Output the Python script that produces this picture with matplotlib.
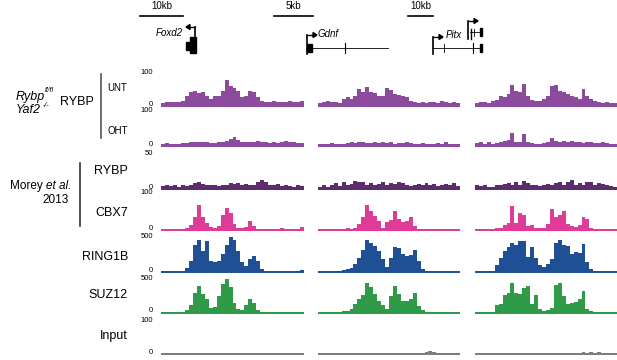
import matplotlib.pyplot as plt
import numpy as np

plt.rcParams['font.family'] = ['Liberation Sans', 'DejaVu Sans']

W, H = 617, 360

# track names, y-axis max, colours
tracks = ['UNT', 'OHT', 'RYBP', 'CBX7', 'RING1B', 'SUZ12', 'Input']
ymax = [100, 100, 50, 100, 500, 500, 100]
colors = ['#8b4c9e', '#8b4c9e', '#5c2c6f', '#de3c97', '#1f4f95', '#2f9a48', '#7d7d7d']

# signal per locus (Foxd2, Gdnf, Pitx), binned
foxd2 = {
    'UNT': [10,12,11,13,12,15,30,40,45,38,42,30,22,28,30,45,76,60,52,45,25,28,45,42,25,15,13,12,14,11,13,12,14,11,13,16],
    'OHT': [6,8,5,7,6,8,9,10,12,10,12,11,8,9,10,12,14,20,26,18,12,10,11,12,14,10,12,9,10,8,12,14,10,12,9,8],
    'RYBP': [4,5,4,6,3,5,4,6,8,9,7,6,5,6,4,5,6,8,7,8,6,7,5,6,9,13,10,6,5,7,4,5,4,3,5,4],
    'CBX7': [2,3,2,3,2,3,6,12,34,67,35,18,8,6,10,40,60,45,15,5,4,8,24,10,3,2,3,2,3,2,4,3,2,3,2,8],
    'RING1B': [10,10,12,10,15,20,60,160,390,460,300,440,150,140,150,250,390,500,460,300,140,90,180,230,160,45,15,12,10,10,12,10,10,12,10,25],
    'SUZ12': [8,10,8,10,12,15,40,120,300,390,280,200,70,90,250,420,500,380,150,60,50,120,200,150,40,12,10,8,10,10,8,10,10,8,10,18],
    'Input': [3,2,4,3,2,3,4,2,3,2,3,4,2,3,2,3,2,3,4,2,3,2,3,2,3,4,2,3,2,3,2,3,2,3,4,2],
}
gdnf = {
    'UNT': [10,12,14,12,13,10,20,25,22,30,50,40,55,42,38,30,28,52,48,35,32,28,25,15,12,10,12,10,11,12,10,14,12,10,11,9],
    'OHT': [5,7,6,8,5,6,5,8,10,9,11,10,9,8,10,8,12,9,11,7,8,9,10,8,7,6,8,7,6,7,9,6,10,7,6,5],
    'RYBP': [3,5,2,6,8,4,9,6,7,11,9,10,6,8,5,7,9,6,8,7,9,8,5,4,6,7,5,8,6,7,4,5,7,6,8,4],
    'CBX7': [2,3,2,2,3,2,3,4,3,4,15,34,67,50,38,25,5,22,28,52,30,22,25,34,10,3,2,3,2,2,3,2,3,2,3,2],
    'RING1B': [10,10,12,12,15,20,25,40,60,120,200,320,460,420,370,300,180,70,200,350,340,250,230,240,320,150,40,20,15,12,10,10,12,10,10,8],
    'SUZ12': [8,10,10,12,15,20,25,35,60,130,200,270,440,380,280,180,120,60,250,390,280,180,170,200,300,110,40,20,15,12,10,10,12,10,10,8],
    'Input': [3,2,3,2,3,4,2,3,2,3,4,2,3,2,3,2,3,2,3,4,2,3,2,3,2,3,3,6,8,7,4,3,2,3,2,3],
}
pitx = {
    'UNT': [10,12,11,10,14,18,30,25,35,63,45,40,66,30,18,16,14,20,30,58,63,45,40,35,30,25,22,51,28,20,15,12,10,11,10,9],
    'OHT': [8,10,7,12,6,9,12,14,16,36,12,10,33,12,8,6,5,8,10,22,15,12,14,11,13,10,12,9,11,10,8,9,10,8,7,6],
    'RYBP': [6,4,5,3,2,6,5,7,8,6,9,5,11,8,6,5,4,6,7,5,8,9,6,10,12,6,8,5,9,10,6,8,7,5,4,3],
    'CBX7': [2,3,2,2,3,4,6,12,20,65,18,47,40,10,13,5,4,6,15,56,35,40,52,15,10,8,12,34,30,5,3,2,3,2,3,2],
    'RING1B': [10,12,10,10,15,100,200,300,350,420,380,440,440,220,350,200,100,70,110,185,420,460,380,370,250,280,270,400,140,40,15,10,12,10,10,8],
    'SUZ12': [8,10,8,10,12,120,130,270,300,440,300,280,370,400,130,270,60,30,40,80,415,440,250,130,150,160,200,320,60,30,12,10,10,8,10,8],
    'Input': [2,3,2,3,2,3,4,3,2,3,2,3,4,2,3,2,3,2,3,4,2,3,2,3,3,4,3,5,4,6,4,5,3,4,3,2],
}
loci = [foxd2, gdnf, pitx]

col_x = [(161, 304), (318, 460), (475, 617)]
row_y = [(72, 107), (111, 147), (153, 190), (193, 231), (237, 273), (279, 314), (320, 355)]

fig = plt.figure(figsize=(W / 100, H / 100), dpi=100)


def fx(x):
    return x / W


def fy(y):
    return 1 - y / H


def txt(x, y, s, **kw):
    kw.setdefault('va', 'center')
    fig.text(fx(x), fy(y), s, **kw)


for ci, (x0, x1) in enumerate(col_x):
    for ri, (y0, y1) in enumerate(row_y):
        ax = fig.add_axes([fx(x0), fy(y1), (x1 - x0) / W, (y1 - y0) / H])
        vals = loci[ci][tracks[ri]]
        ax.bar(np.arange(len(vals)), vals, width=1.0, color=colors[ri], linewidth=0)
        ax.axhline(0, color=colors[ri], lw=1.0)
        ax.set_xlim(-0.5, len(vals) - 0.5)
        ax.set_ylim(-0.03 * ymax[ri], ymax[ri])
        ax.axis('off')

# y scale labels
for ri, (y0, y1) in enumerate(row_y):
    txt(153, y0, str(ymax[ri]), ha='right', fontsize=5.5)
    txt(153, y1 - 3, '0', ha='right', fontsize=5.5)

# left labels
txt(16, 97, 'Rybp', ha='left', fontsize=9, style='italic')
txt(45, 91, 'fl/fl', ha='left', fontsize=5, style='italic')
txt(16, 110, 'Yaf2', ha='left', fontsize=9, style='italic')
txt(43, 105, '-/-', ha='left', fontsize=5, style='italic')
txt(60, 102, 'RYBP', ha='left', fontsize=9)
fig.add_artist(plt.Line2D([fx(101), fx(101)], [fy(74), fy(138)], color='#555555', lw=1.2))
txt(107, 88, 'UNT', ha='left', fontsize=7)
txt(107, 131, 'OHT', ha='left', fontsize=7)

txt(43, 186, 'Morey', ha='right', fontsize=8.5)
txt(46, 186, 'et al.', ha='left', fontsize=8.5, style='italic')
txt(69, 200, '2013', ha='right', fontsize=8.5)
fig.add_artist(plt.Line2D([fx(80), fx(80)], [fy(163), fy(226)], color='#333333', lw=1.2))
for name, y in zip(['RYBP', 'CBX7', 'RING1B', 'SUZ12', 'Input'], [171, 213, 257, 295, 336]):
    txt(128, y, name, ha='right', fontsize=9)

# scale bars
for (bx0, bx1), lab in zip([(140, 183), (274, 313), (408, 433)], ['10kb', '5kb', '10kb']):
    fig.add_artist(plt.Line2D([fx(bx0), fx(bx1)], [fy(16), fy(16)], color='black', lw=1.2))
    txt((bx0 + bx1) / 2, 6, lab, ha='center', fontsize=7)


def line(xs, ys, lw=1.0):
    fig.add_artist(plt.Line2D([fx(x) for x in xs], [fy(y) for y in ys], color='black', lw=lw))


def block(x0, y0, x1, y1):
    fig.add_artist(plt.Rectangle((fx(x0), fy(y1)), (x1 - x0) / W, (y1 - y0) / H,
                                 color='black', transform=fig.transFigure))


def arrow(x0, x1, y):
    fig.add_artist(plt.Line2D([fx(x0), fx(x1)], [fy(y), fy(y)], color='black', lw=1.0))
    d = 1 if x1 > x0 else -1
    fig.add_artist(plt.Polygon([(fx(x1 + 2 * d), fy(y)), (fx(x1 - 2 * d), fy(y - 2.5)),
                                (fx(x1 - 2 * d), fy(y + 2.5))], color='black',
                               transform=fig.transFigure))


# Foxd2
line([195, 195], [27, 53], lw=1.2)
arrow(195, 188, 27)
block(190, 37, 196, 53)
block(186, 42, 190, 50)
txt(183, 33, 'Foxd2', ha='right', fontsize=7, style='italic')

# Gdnf
line([307, 307], [35, 54], lw=1.2)
arrow(307, 315, 35)
block(307, 44, 312, 52)
line([312, 388], [48, 48], lw=0.6)
line([345, 345], [43, 53], lw=0.8)
txt(318, 34, 'Gdnf', ha='left', fontsize=7, style='italic')

# Pitx
line([433, 433], [37, 54], lw=1.2)
arrow(433, 441, 37)
line([433, 482], [48, 48], lw=0.6)
line([444, 444], [44, 52], lw=0.6)
line([473, 473], [43, 53], lw=0.8)
block(480, 44, 482, 52)
txt(446, 35, 'Pitx', ha='left', fontsize=7, style='italic')
line([468, 468], [21, 39], lw=1.2)
arrow(468, 476, 21)
line([470.5, 470.5], [29, 39], lw=1.0)
line([470, 482], [32, 32], lw=0.6)
line([474, 474], [29, 36], lw=0.6)
block(480, 28, 482, 36)

fig.savefig('out.png', dpi=100)
